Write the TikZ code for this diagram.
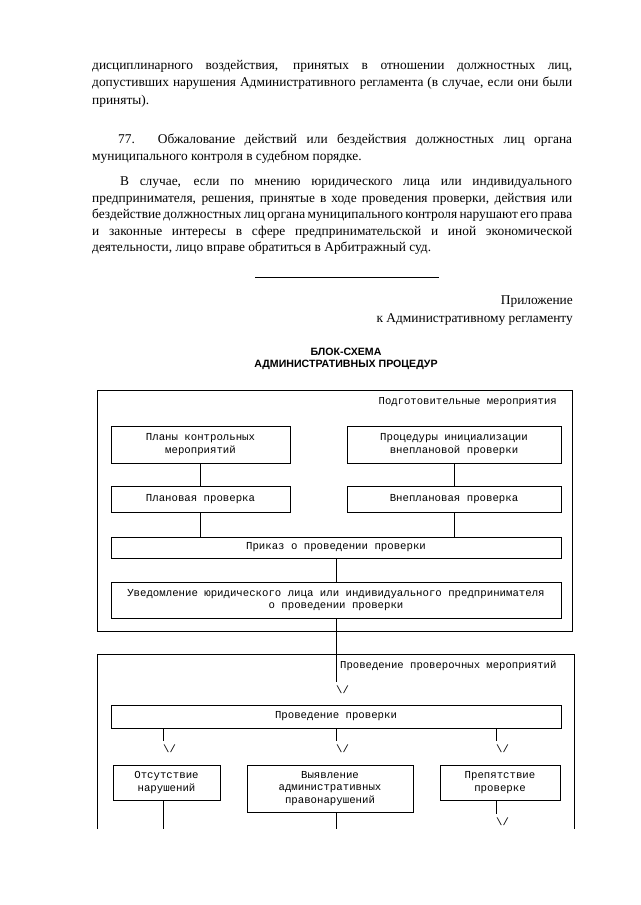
\documentclass[tikz,border=0pt]{standalone}
\usepackage{fontspec}
\setmainfont{Liberation Serif}
\newfontfamily\monofont{Liberation Mono}
\newfontfamily\headfont{Liberation Sans}

\begin{document}
\begin{tikzpicture}[%
  x=1pt, y=-1pt, % Page units, y grows downwards
  body/.style={anchor=west, inner sep=0pt, font=\fontsize{13.4}{16}\selectfont}, % Text of the regulation
  title/.style={inner sep=0pt, font=\headfont\bfseries\fontsize{10.6}{14}\selectfont}, % Heading of the scheme
  frame/.style={draw, line width=0.8pt, inner sep=0pt}, % Outer frames of the stages
  block/.style={draw, line width=1pt, inner sep=0pt, align=center, font=\monofont\fontsize{10.7}{12.5}\selectfont}, % Procedure boxes
  caption/.style={inner sep=0pt, font=\monofont\fontsize{10.6}{12.5}\selectfont}, % Stage names
  vee/.style={anchor=north west, inner sep=0pt, font=\monofont\fontsize{10.6}{12.5}\selectfont}, % Typed arrow heads
  link/.style={draw, line width=0.8pt} % Connectors
]
\useasboundingbox (0,0) rectangle (640,905);

% End of the previous paragraph
\node [body] (p1a) at (92,66) {\makebox[480pt][s]{дисциплинарного воздействия, принятых в отношении должностных лиц,}};
\node [body] (p1b) at (92,83) {\makebox[480pt][s]{допустивших нарушения Административного регламента (в случае, если они были}};
\node [body] (p1c) at (92,101) {приняты).};

% Item 77
\node [body] (p2a) at (118,140) {\makebox[454pt][s]{77. Обжалование действий или бездействия должностных лиц органа}};
\node [body] (p2b) at (92,157) {муниципального контроля в судебном порядке.};

\node [body] (p3a) at (120,183) {\makebox[452pt][s]{В случае, если по мнению юридического лица или индивидуального}};
\node [body] (p3b) at (92,199) {\makebox[480pt][s]{предпринимателя, решения, принятые в ходе проведения проверки, действия или}};
\node [body] (p3c) at (92,215) {\makebox[480pt][s]{бездействие должностных лиц органа муниципального контроля нарушают его права}};
\node [body] (p3d) at (92,232) {\makebox[480pt][s]{и законные интересы в сфере предпринимательской и иной экономической}};
\node [body] (p3e) at (92,248) {деятельности, лицо вправе обратиться в Арбитражный суд.};

\coordinate (rule-l) at (255,277);
\coordinate (rule-r) at (439,277);
\draw [line width=0.8pt] (rule-l) -- (rule-r);

% Annex heading
\node [body, anchor=east] (annex) at (573,302) {Приложение};
\node [body, anchor=east] (annexto) at (573,320) {к Административному регламенту};

\node [title] (head1) at (346,352) {БЛОК-СХЕМА};
\node [title] (head2) at (346,365) {АДМИНИСТРАТИВНЫХ ПРОЦЕДУР};

% Stage 1
\node [frame, minimum width=475pt, minimum height=241pt] (prep) at (334.5,510.5) {};
\node [caption, anchor=east] (prepcap) at (557,402) {Подготовительные мероприятия};

\node [block, minimum width=179pt, minimum height=37pt] (plans) at (200.5,444.5) {Планы контрольных\\мероприятий};
\node [block, minimum width=214pt, minimum height=37pt] (initproc) at (454,444.5) {Процедуры инициализации\\внеплановой проверки};
\node [block, minimum width=179pt, minimum height=26pt] (planned) at (200.5,499) {Плановая проверка};
\node [block, minimum width=214pt, minimum height=26pt] (unplanned) at (454,499) {Внеплановая проверка};
\node [block, minimum width=450pt, minimum height=21pt] (order) at (336,547.5) {Приказ о проведении проверки};
\node [block, minimum width=450pt, minimum height=36pt] (notice) at (336,600) {Уведомление юридического лица или индивидуального предпринимателя\\о проведении проверки};

\draw [link] (plans) -- (planned);
\draw [link] (initproc) -- (unplanned);
\draw [link] (planned) -- (planned |- order.north);
\draw [link] (unplanned) -- (unplanned |- order.north);
\draw [link] (order) -- (notice);

% Stage 2
\coordinate (insp-sw) at (97,829);
\coordinate (insp-ne) at (574,654);
\draw [line width=0.8pt] (insp-sw) |- (insp-ne) -- (insp-ne |- insp-sw);
\node [caption, anchor=west] (inspcap) at (340,666) {Проведение проверочных мероприятий};
\node [vee] (v0) at (336,686) {\textbackslash/};
\draw [link, shorten >=4pt] (notice.south -| v0.west) -- (v0.north west);

\node [block, minimum width=450pt, minimum height=23pt] (conduct) at (336,716.5) {Проведение проверки};

\node [vee] (vA) at (163,745) {\textbackslash/};
\node [vee] (vB) at (336,745) {\textbackslash/};
\node [vee] (vC) at (496,745) {\textbackslash/};
\draw [link, shorten >=4pt] (conduct.south -| vA.west) -- (vA.north west);
\draw [link, shorten >=4pt] (conduct.south -| vB.west) -- (vB.north west);
\draw [link, shorten >=4pt] (conduct.south -| vC.west) -- (vC.north west);

% Results of the inspection
\node [block, minimum width=107pt, minimum height=35pt] (nofault) at (166.5,782.5) {Отсутствие\\нарушений};
\node [block, minimum width=166pt, minimum height=47pt] (found) at (330,788.5) {Выявление\\административных\\правонарушений};
\node [block, minimum width=120pt, minimum height=35pt] (obstacle) at (500,782.5) {Препятствие\\проверке};

\coordinate (endA) at (163,829);
\coordinate (endB) at (336,829);
\node [vee] (vD) at (496,818) {\textbackslash/};
\draw [link] (nofault.south -| endA) -- (endA);
\draw [link] (found.south -| endB) -- (endB);
\draw [link, shorten >=4pt] (obstacle.south -| vD.west) -- (vD.north west);

\end{tikzpicture}
\end{document}
